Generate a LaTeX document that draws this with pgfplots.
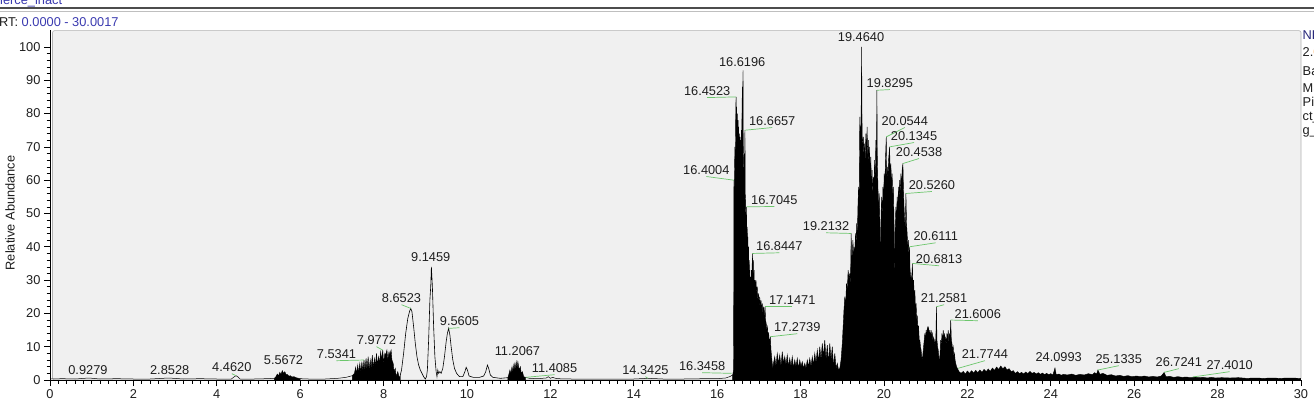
\documentclass[border=0pt]{standalone}
\usepackage{fontspec}
\setmainfont{Liberation Sans}
\usepackage{pgfplots}
\pgfplotsset{compat=1.18}
\usepackage{pgfplotstable}
\definecolor{panel}{HTML}{F0F0F0}
\definecolor{lbl}{HTML}{6CC66C}
\definecolor{hdrblue}{HTML}{3A3AB0}
\definecolor{txt}{HTML}{1E1E1E}

\pgfplotstableread{
t v
0.00 0.3
0.30 0.4
0.60 0.3
0.93 0.6
1.20 0.3
1.60 0.4
2.00 0.3
2.40 0.3
2.85 0.6
3.20 0.3
3.60 0.4
4.00 0.3
4.35 0.3
4.42 1.0
4.46 1.3
4.50 1.0
4.56 0.3
4.90 0.3
5.20 0.4
5.38 0.5
}\segA
\pgfplotstableread{
t v
5.38 0.5
5.42 1.0
5.45 1.8
5.48 1.2
5.51 2.3
5.54 1.7
5.57 2.8
5.60 2.0
5.63 2.5
5.66 1.7
5.70 1.6
5.73 1.1
5.76 1.3
5.80 0.9
5.85 1.0
5.90 0.7
6.00 0.4
}\segB
\pgfplotstableread{
t v
6.00 0.4
6.20 0.3
6.60 0.3
6.90 0.5
7.10 0.8
7.25 1.3
}\segC
\pgfplotstableread{
t v
7.25 1.3
7.30 2.0
7.33 3.8
7.35 1.8
7.38 4.5
7.40 2.0
7.43 5.0
7.45 2.2
7.48 5.5
7.50 2.5
7.53 6.0
7.55 2.8
7.58 6.5
7.60 3.0
7.63 7.0
7.65 3.0
7.68 6.0
7.70 3.5
7.73 7.5
7.75 3.5
7.78 6.5
7.80 4.0
7.83 8.0
7.85 4.5
7.88 7.0
7.90 5.0
7.93 8.5
7.95 6.0
7.98 9.0
8.00 5.0
8.03 8.0
8.05 7.5
8.08 9.0
8.10 6.0
8.13 8.5
8.15 7.5
8.18 9.0
8.20 6.0
8.23 5.0
8.25 2.5
8.28 3.5
8.30 1.0
8.34 2.5
8.38 0.5
8.40 1.5
}\segD
\pgfplotstableread{
t v
8.40 1.5
8.43 3.0
8.48 8.0
8.53 14.0
8.58 18.5
8.62 20.5
8.65 21.5
8.68 20.5
8.72 16.0
8.76 11.0
8.80 7.0
8.84 4.5
8.88 3.0
8.92 2.0
8.96 1.0
9.00 0.3
9.03 1.0
9.05 3.0
9.08 12.0
9.11 24.0
9.13 28.0
9.146 34.0
9.17 28.0
9.20 16.0
9.23 7.0
9.26 2.5
9.28 1.0
9.30 3.0
9.32 2.0
9.35 2.5
9.38 2.0
9.42 3.5
9.46 7.0
9.50 11.5
9.53 14.0
9.56 15.5
9.59 13.5
9.62 10.0
9.66 6.0
9.70 3.5
9.75 2.0
9.82 1.0
9.90 1.0
9.95 2.5
9.98 3.8
10.01 3.0
10.05 1.2
10.15 0.8
10.30 0.8
10.40 1.2
10.45 2.5
10.49 4.5
10.52 3.5
10.56 1.5
10.62 0.8
10.80 0.5
10.98 0.7
}\segE
\pgfplotstableread{
t v
10.98 0.7
11.00 1.5
11.03 3.0
11.05 1.8
11.08 4.0
11.10 2.5
11.13 5.0
11.15 3.0
11.18 5.5
11.20 3.5
11.22 5.5
11.25 3.0
11.28 4.0
11.30 2.0
11.33 2.5
11.36 1.0
11.40 0.8
}\segF
\pgfplotstableread{
t v
11.40 0.8
11.50 0.5
11.70 0.4
11.90 0.6
11.95 1.0
12.00 0.5
12.05 0.8
12.15 0.4
12.50 0.3
13.00 0.3
13.50 0.3
14.00 0.3
14.34 0.5
14.70 0.3
15.20 0.3
15.70 0.4
16.00 0.4
16.20 0.6
16.30 1.0
16.37 1.5
}\segG
\pgfplotstableread{
t v
16.370 1.5
16.380 2.0
16.390 3.0
16.398 30
16.402 60
16.408 48
16.415 63
16.425 70
16.435 66
16.445 80
16.452 85
16.460 78
16.468 82
16.476 74
16.484 80
16.492 66
16.500 78
16.508 70
16.516 76
16.524 64
16.532 74
16.540 66
16.548 73
16.556 62
16.564 72
16.572 65
16.580 75
16.588 70
16.596 82
16.604 88
16.610 72
16.619 93
16.626 70
16.634 66
16.642 60
16.650 68
16.658 62
16.666 75
16.672 56
16.680 54
16.688 48
16.696 44
16.705 52
16.712 42
16.720 46
16.728 38
16.736 43
16.744 35
16.752 40
16.760 33
16.768 36
16.776 30
16.784 33
16.792 27
16.800 31
16.810 25
16.820 33
16.830 30
16.845 38
16.855 33
16.865 36
16.875 30
16.885 33
16.895 12
16.905 30
16.915 28
16.930 30
16.945 26
16.960 28
16.975 24
16.990 26
17.005 22
17.020 25
17.035 22
17.050 24
17.065 21
17.080 23
17.095 20
17.110 22
17.125 19
17.147 22
17.160 18
17.175 17
17.190 15
17.205 16
17.220 13
17.235 14
17.250 11
17.274 13
17.290 9
17.305 7
17.320 5
17.335 3.5
17.350 5
17.38 7
17.41 4
17.44 8
17.47 5
17.50 7.5
17.53 4
17.56 8.5
17.59 5
17.62 7
17.65 4.5
17.68 7.5
17.71 4
17.74 6.5
17.77 4
17.80 7
17.83 3.5
17.86 6
17.89 4
17.92 6.5
17.95 3.5
17.98 6
18.01 4
18.04 5.5
18.07 3.5
18.10 5
18.13 3.5
18.16 6
18.19 4
18.22 6.5
18.25 4
18.28 7
18.31 4.5
18.34 8
18.37 5
18.40 9
18.43 5.5
18.46 10
18.49 6
18.52 11
18.55 7
18.58 12
18.61 6
18.64 10.5
18.67 5
18.70 11
18.73 6
18.76 10
18.79 4
18.82 8
18.85 3.5
18.88 5
18.91 3
18.94 3.5
18.97 6
19.00 11
19.02 16
19.04 21
19.06 25
19.08 22
19.10 29
19.12 27
19.14 33
19.16 30
19.18 32
19.195 28
19.213 44
19.225 34
19.240 38
19.255 42
19.270 36
19.285 40
19.300 37
19.315 44
19.330 40
19.345 47
19.360 43
19.375 52
19.390 58
19.405 55
19.420 79
19.435 72
19.450 77
19.464 100
19.475 74
19.490 70
19.505 73
19.520 66
19.535 71
19.550 64
19.565 74
19.580 68
19.595 76
19.610 65
19.625 72
19.640 63
19.655 70
19.670 60
19.685 67
19.700 56
19.715 63
19.730 54
19.745 61
19.760 58
19.775 66
19.790 60
19.805 72
19.820 68
19.830 87
19.840 66
19.855 58
19.870 50
19.885 56
19.900 48
19.915 30
19.930 50
19.945 55
19.960 48
19.975 58
19.990 54
20.005 62
20.020 58
20.035 66
20.054 73
20.065 60
20.080 64
20.095 60
20.110 66
20.134 70
20.150 62
20.165 65
20.180 58
20.195 62
20.210 55
20.225 58
20.240 48
20.255 30
20.270 46
20.285 52
20.300 48
20.315 55
20.330 50
20.345 58
20.360 53
20.375 60
20.390 55
20.405 62
20.420 57
20.435 63
20.454 65
20.465 58
20.480 52
20.495 48
20.510 45
20.526 56
20.540 47
20.555 44
20.570 40
20.585 42
20.600 36
20.611 40
20.625 33
20.640 31
20.655 30
20.670 32
20.681 35
20.695 28
20.710 30
20.725 25
20.740 27
20.755 21
20.770 23
20.785 18
20.800 19
20.815 15
20.830 16
20.845 12
20.860 12
20.875 10
20.890 9
20.905 7
20.920 6
20.935 8
20.950 10
20.965 12
20.980 14
20.995 12
21.010 15
21.025 13
21.040 16
21.055 14
21.070 16
21.085 13
21.100 15
21.115 12
21.130 15
21.145 13
21.160 14
21.175 11
21.190 13
21.205 10
21.220 12
21.240 10
21.258 22
21.270 12
21.285 10
21.300 9
21.315 7
21.330 5
21.345 8
21.360 12
21.375 10
21.390 14
21.405 11
21.420 15
21.435 12
21.450 14
21.465 11
21.480 13
21.495 10
21.510 14
21.525 12
21.540 15
21.555 11
21.570 14
21.585 12
21.600 18
21.615 12
21.630 11
21.645 9
21.660 10
21.675 7
21.690 8
21.705 6
21.720 5
21.740 4
21.760 3.5
21.780 3.0
21.800 2.5
21.85 2.0
21.90 2.6
21.95 1.8
22.00 2.7
22.05 2.0
22.10 2.8
22.15 2.1
22.20 2.9
22.25 2.2
22.30 3.0
22.35 2.3
22.40 3.2
22.45 2.5
22.50 3.3
22.55 2.6
22.60 3.6
22.65 2.9
22.70 3.9
22.75 3.2
22.80 4.2
22.85 3.4
22.90 4.0
22.95 3.0
23.00 3.4
23.05 2.5
23.10 2.8
23.15 2.0
23.20 2.5
23.25 1.9
23.30 2.3
23.35 1.8
23.40 2.4
23.45 1.9
23.50 2.6
23.55 2.0
23.60 2.3
23.65 1.8
23.70 2.2
23.75 1.7
23.80 2.1
23.85 1.6
23.90 2.0
23.95 1.6
24.00 1.9
24.05 1.5
24.10 3.6
24.13 1.6
24.20 1.8
24.25 1.4
24.30 1.7
24.40 1.5
24.50 1.8
24.60 1.4
24.70 1.7
24.80 1.5
24.90 1.9
25.00 1.6
25.05 2.2
25.10 1.8
25.13 3.0
25.18 1.7
25.25 2.0
25.35 1.4
25.45 1.6
25.55 1.2
25.65 1.4
25.75 1.1
25.85 1.3
25.95 1.0
26.05 1.2
26.15 1.0
26.25 1.2
26.35 0.9
26.45 1.1
26.55 0.9
26.65 1.2
26.72 2.3
26.76 1.0
26.85 1.1
26.95 0.8
27.05 1.0
27.15 0.8
27.25 0.9
27.35 0.7
27.45 0.9
27.55 0.7
27.65 0.8
27.75 0.6
27.85 0.8
27.95 0.6
28.10 0.7
28.30 0.6
28.50 0.7
28.70 0.5
28.90 0.6
29.10 0.5
29.30 0.6
29.50 0.5
29.70 0.6
30.00 0.5
}\segH

\newcommand{\fs}{\fontsize{12.8}{14}\selectfont}
% \pk{label t}{label v}{line v}{peak t}{peak v}{text}
\newcommand{\pk}[6]{%
  \draw[lbl, line width=0.7pt] (axis cs:#1,#3) -- (axis cs:#4,#5);
  \node[font=\fs, text=txt, inner sep=0pt] at (axis cs:#1,#2) {#6};}
\newcommand{\pl}[3]{%
  \node[font=\fs, text=txt, inner sep=0pt] at (axis cs:#1,#2) {#3};}

\begin{document}
\begin{tikzpicture}[x=1pt,y=1pt]
\path[use as bounding box] (0,0) rectangle (1314,405);
\clip (0,0) rectangle (1314,405);
\fill[white] (0,0) rectangle (1314,405);
% header
\draw[line width=1.8pt, color=black!70] (0,396.7) -- (1314,396.7);
\draw[line width=0.6pt, color=black!25] (0,393.8) -- (1314,393.8);
\node[anchor=base west, text=hdrblue, inner sep=0pt, font=\fs] at (-8.5,400.5) {Pierce\_inact};
\node[anchor=base west, inner sep=0pt, font=\fs, text=txt] at (-1,378.5) {RT: \textcolor{hdrblue}{0.0000 - 30.0017}};
% panel
\filldraw[fill=panel, draw=black!30, line width=0.6pt, rounded corners=2pt] (52.5,25) rectangle (1301,374.3);
% right-side info text (cut off at the edge, as in the original)
\begin{scope}[every node/.style={anchor=base west, inner sep=0pt, font=\fs, text=txt}]
\node[text=hdrblue!70!black] at (1302.5,365.5) {NL:};
\node at (1302.5,348) {2.\textcolor{orange}{0}7E9};
\node at (1302.5,329) {Base Peak};
\node at (1302.5,312.5) {MS};
\node at (1302.5,298) {Pierce};
\node at (1302.5,284) {ct\_intact};
\node at (1302.5,270.5) {g\_1};
\end{scope}
% y label
\node[rotate=90, font=\fs, text=txt] at (10,192) {Relative Abundance};
\begin{axis}[
  at={(50pt,25pt)}, anchor=south west,
  width=1251pt, height=349.7pt, scale only axis,
  xmin=0, xmax=30, ymin=0, ymax=105,
  axis x line*=bottom, axis y line*=left,
  axis line style={-, black, line width=0.7pt},
  xtick={0,2,...,30}, ytick={0,10,...,100},
  minor x tick num=9, minor y tick num=4,
  tick align=outside,
  major tick length=6pt, minor tick length=3.5pt,
  tick style={black, line width=0.6pt},
  minor tick style={black, line width=0.5pt},
  ticklabel style={font=\fs, text=txt},
  /pgf/number format/assume math mode=true,
  clip mode=individual,
]
\addplot[black, line width=0.5pt] table {\segA};
\addplot[draw=black, fill=black, line width=0.4pt] table {\segB} \closedcycle;
\addplot[black, line width=0.5pt] table {\segC};
\addplot[draw=black, fill=black, line width=0.4pt] table {\segD} \closedcycle;
\addplot[black, line width=0.6pt] table {\segE};
\addplot[draw=black, fill=black, line width=0.4pt] table {\segF} \closedcycle;
\addplot[black, line width=0.5pt] table {\segG};
\addplot[draw=black, fill=black, line width=0.4pt] table {\segH} \closedcycle;

\pl{0.91}{3.0}{0.9279}
\pl{2.87}{3.0}{2.8528}
\pk{4.36}{3.9}{1.9}{4.462}{1.3}{4.4620}
\pl{5.60}{6.0}{5.5672}
\pk{6.87}{7.8}{5.8}{7.534}{6.0}{7.5341}
\pk{7.83}{12.0}{10.0}{7.977}{9.0}{7.9772}
\pk{8.43}{24.6}{22.6}{8.652}{21.5}{8.6523}
\pl{9.13}{36.9}{9.1459}
\pk{9.82}{17.7}{15.7}{9.56}{15.5}{9.5605}
\pl{11.21}{8.7}{11.2067}
\pk{12.10}{3.6}{1.6}{11.41}{0.8}{11.4085}
\pk{14.28}{3.0}{1.0}{14.34}{0.5}{14.3425}
\pk{15.64}{4.2}{2.2}{16.346}{2.0}{16.3458}
\pk{15.74}{63.1}{61.1}{16.40}{60}{16.4004}
\pk{15.76}{86.8}{84.8}{16.452}{85}{16.4523}
\pl{16.60}{95.5}{16.6196}
\pk{17.32}{77.8}{75.8}{16.666}{75}{16.6657}
\pk{17.37}{54.1}{52.1}{16.705}{52}{16.7045}
\pk{17.49}{40.2}{38.2}{16.845}{38}{16.8447}
\pk{17.80}{24.0}{22.0}{17.147}{22}{17.1471}
\pk{17.92}{15.9}{13.9}{17.274}{13}{17.2739}
\pk{18.61}{46.2}{44.2}{19.213}{44}{19.2132}
\pl{19.45}{103}{19.4640}
\pk{20.14}{89.2}{87.2}{19.83}{87}{19.8295}
\pk{20.50}{77.8}{75.8}{20.054}{73}{20.0544}
\pk{20.72}{73.3}{71.3}{20.134}{70}{20.1345}
\pk{20.84}{68.5}{66.5}{20.454}{65}{20.4538}
\pk{21.15}{58.6}{56.6}{20.526}{56}{20.5260}
\pk{21.24}{43.2}{41.2}{20.611}{40}{20.6111}
\pk{21.32}{36.3}{34.3}{20.681}{35}{20.6813}
\pk{21.44}{24.6}{22.6}{21.258}{22}{21.2581}
\pk{22.25}{19.8}{17.8}{21.60}{18}{21.6006}
\pk{22.42}{7.8}{5.8}{21.774}{3.5}{21.7744}
\pl{24.19}{6.9}{24.0993}
\pk{25.63}{6.3}{4.3}{25.13}{3.0}{25.1335}
\pk{27.07}{5.4}{3.4}{26.72}{2.3}{26.7241}
\pk{28.29}{4.5}{2.5}{27.40}{0.9}{27.4010}
\end{axis}
\end{tikzpicture}
\end{document}
